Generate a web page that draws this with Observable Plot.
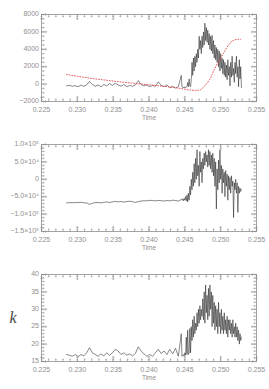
<!DOCTYPE html>
<html><head><meta charset="utf-8">
<script src="https://cdn.jsdelivr.net/npm/d3@7"></script>
<script src="https://cdn.jsdelivr.net/npm/@observablehq/plot@0.6"></script>
<style>body{margin:0;background:#fff} svg{display:block}</style>
</head><body><div id="c"></div>
<script>
const timeEarly = [0.2285,0.2289,0.2293,0.2297,0.2301,0.2305,0.2309,0.2313,0.2317,0.2321,0.2325,0.2329,0.2333,0.2337,0.2341,0.2345,0.2349,0.2353,0.2357,0.2361,0.2365,0.2369,0.2373,0.2377,0.2381,0.2385,0.2389,0.2393,0.2397,0.2401,0.2405,0.2409,0.2413,0.2417,0.2421,0.2425,0.2429,0.2433,0.2437,0.2441,0.2445];
const timeLate = [0.2446,0.2447,0.2448,0.2449,0.2450,0.2451,0.2452,0.2453,0.2454,0.2455,0.2456,0.2457,0.2458,0.2459,0.2460,0.2461,0.2462,0.2463,0.2464,0.2465,0.2466,0.2467,0.2468,0.2469,0.2470,0.2471,0.2472,0.2473,0.2474,0.2475,0.2476,0.2477,0.2478,0.2479,0.2480,0.2481,0.2482,0.2483,0.2484,0.2485,0.2486,0.2487,0.2488,0.2489,0.2490,0.2491,0.2492,0.2493,0.2494,0.2495,0.2496,0.2497,0.2498,0.2499,0.2500,0.2501,0.2502,0.2503,0.2504,0.2505,0.2506,0.2507,0.2508,0.2509,0.2510,0.2511,0.2512,0.2513,0.2514,0.2515,0.2516,0.2517,0.2518,0.2519,0.2520,0.2521,0.2522,0.2523,0.2524,0.2525,0.2526,0.2527,0.2528,0.2529];

const flux1Early = [-200,-150,-250,-180,-300,-120,-250,-100,300,-50,-250,-100,-300,-50,-200,50,-150,100,-100,-250,-50,-300,-150,-250,-100,400,-50,-200,-100,-300,-150,-250,250,-150,-300,-100,-400,-250,-450,-300,1000];
const flux1Late = [-300,-400,-350,-450,-300,-400,-350,-300,200,-300,600,-200,-300,500,2500,1000,3000,1500,3200,2000,3500,2500,4000,3000,5500,4000,5000,3500,5500,4200,6000,4500,7000,5000,6500,4800,6200,4500,5800,4000,5500,3800,5600,3500,5000,3000,4500,2800,4200,2500,4000,2000,3800,1500,3500,1800,3000,1200,2800,1000,2500,800,2200,500,2800,1000,2000,-200,2500,800,3200,1000,1800,200,2500,1200,3200,800,2000,-300,2800,600,2000,-400];

const redTime = [0.2285,0.2300,0.2320,0.2340,0.2360,0.2380,0.2400,0.2420,0.2440,0.2455,0.2465,0.2472,0.2477,0.2482,0.2486,0.2490,0.2495,0.2500,0.2505,0.2510,0.2515,0.2520,0.2525,0.2528];
const redValue = [1100,900,650,450,250,80,-80,-250,-450,-650,-750,-650,-300,200,700,1500,2300,3000,3700,4400,4900,5100,5150,5150];

const flux2Early = [-68000,-67000,-67500,-66500,-67000,-66000,-67500,-68000,-72000,-69000,-67000,-66500,-68000,-66000,-65000,-66500,-65000,-63500,-65000,-64000,-65500,-64000,-63000,-64500,-66500,-64000,-62500,-61500,-62000,-60500,-61000,-62000,-60500,-61500,-62500,-61000,-62000,-60000,-61000,-62500,-58000];
const flux2Late = [-60000,-56000,-62000,-55000,-60000,-50000,-62000,-45000,-65000,-40000,-60000,-20000,-45000,0,-30000,20000,-20000,45000,-10000,60000,0,85000,10000,40000,-20000,80000,20000,50000,-10000,60000,30000,75000,40000,80000,50000,70000,35000,85000,
40000,80000,30000,70000,20000,75000,10000,60000,-20000,50000,-85000,30000,-30000,55000,-10000,85000,0,40000,-40000,30000,-10000,20000,-50000,25000,-20000,15000,-60000,10000,-30000,5000,-40000,10000,-20000,-5000,-110000,-10000,-30000,0,-40000,-10000,-95000,-20000,-40000,-25000,-35000,-30000];

const kEarly = [17,16.8,16.5,17,16.4,17,16.6,17.5,19,17.5,17,16.5,17.2,16.6,17.5,16.8,17.5,18.5,18,17,17.5,16.8,17.2,16.6,17.3,19.2,18,17.2,16.5,17,16.5,17.5,18.5,17.3,18,17,18.5,17.2,18.8,16.5,23];
const kLate = [16.5,16.8,17,16.5,17.5,16.8,22,17,24,17,17.5,24.5,17.5,25,21,27,22,28,23,26,24,29,25,30,26,31,27,30,28,33,27,35,26,37,29,34,27,36,28,37,30,35,25,34,26,32,24,31,25,30,23,32,25,29,23,30,24,28,23,29,24,27,23,28,22,27,24,27,23,26,22,27,23,25,22,26,22,25,21,24,20,23,21,22];

const xTicks = [0.225,0.230,0.235,0.240,0.245,0.250,0.255];
const xTickLabels = ["0.225","0.230","0.235","0.240","0.245","0.250","0.255"];
const y1Ticks = [-2000,0,2000,4000,6000,8000];
const y1TickLabels = ["\u22122000","0","2000","4000","6000","8000"];
const y2Ticks = [-150000,-100000,-50000,0,50000,100000];
const y2TickLabels = ["\u22121.5\u00d710\u2075","\u22121.0\u00d710\u2075","\u22125.0\u00d710\u2074","0","5.0\u00d710\u2074","1.0\u00d710\u2075"];
const y3Ticks = [15,20,25,30,35,40];
const y3TickLabels = ["15","20","25","30","35","40"];

const time = timeEarly.concat(timeLate);
const GRAY = "#8f8f8f";
const FONT = "Liberation Sans, Arial, sans-serif";

function panel({series, red, yDomain, yTicks, yTickLabels, yMinorStep, height, ylabel}) {
  const xMinor = d3.range(0.225, 0.25501, 0.001);
  const yMinor = d3.range(yDomain[0], yDomain[1] + yMinorStep / 2, yMinorStep);
  const data = time.map((t, i) => ({t, v: series[i]}));
  const marks = [
    Plot.frame({stroke: GRAY, strokeWidth: 0.8}),
    Plot.line(data, {x: "t", y: "v", stroke: "#111", strokeWidth: 0.5}),
  ];
  if (red) marks.push(Plot.line(red, {x: "t", y: "v", stroke: "#e04848", strokeWidth: 0.9, strokeDasharray: "0.9,1.8"}));
  const tk = (vals, opts, len) => Plot.vector(vals, {...opts, length: len, anchor: "start", stroke: GRAY, strokeWidth: 0.6});
  for (const [vals, len] of [[xTicks, 5], [xMinor, 2.5]]) {
    marks.push(tk(vals, {x: d => d, frameAnchor: "bottom", rotate: 0}, len));
    marks.push(tk(vals, {x: d => d, frameAnchor: "top", rotate: 180}, len));
  }
  for (const [vals, len] of [[yTicks, 5], [yMinor, 2.5]]) {
    marks.push(tk(vals, {y: d => d, frameAnchor: "left", rotate: 90}, len));
    marks.push(tk(vals, {y: d => d, frameAnchor: "right", rotate: -90}, len));
  }
  marks.push(Plot.text(xTicks, {x: d => d, frameAnchor: "bottom", dy: 10, text: (d, i) => xTickLabels[i], fill: GRAY, fontSize: 7, fontFamily: FONT}));
  marks.push(Plot.text(yTicks, {y: d => d, frameAnchor: "left", dx: -2.5, dy: -0.5, textAnchor: "end", text: (d, i) => yTickLabels[i], fill: GRAY, fontSize: 7, fontFamily: FONT}));
  marks.push(Plot.text(["Time"], {frameAnchor: "bottom", dy: 18, text: d => d, fill: GRAY, fontSize: 6.5, fontFamily: FONT}));
  if (ylabel) marks.push(Plot.text([ylabel], {frameAnchor: "left", dx: -32, text: d => d, fill: "#444", fontSize: 16, fontStyle: "italic", fontFamily: "Liberation Serif, DejaVu Serif, serif"}));
  return Plot.plot({
    width: 269, height,
    marginLeft: 41, marginRight: 13, marginTop: 14, marginBottom: height - 101,
    x: {domain: [0.225, 0.255], axis: null},
    y: {domain: yDomain, axis: null},
    style: {background: "#fff", overflow: "visible"},
    marks
  });
}

const c = document.getElementById("c");
c.appendChild(panel({
  series: flux1Early.concat(flux1Late),
  red: redTime.map((t, i) => ({t, v: redValue[i]})),
  yDomain: [-2000, 8000], yTicks: y1Ticks, yTickLabels: y1TickLabels, yMinorStep: 500, height: 130
}));
c.appendChild(panel({
  series: flux2Early.concat(flux2Late),
  yDomain: [-150000, 100000], yTicks: y2Ticks, yTickLabels: y2TickLabels, yMinorStep: 10000, height: 130
}));
c.appendChild(panel({
  series: kEarly.concat(kLate),
  yDomain: [15, 40], yTicks: y3Ticks, yTickLabels: y3TickLabels, yMinorStep: 1, height: 129, ylabel: "k"
}));
</script>
</body></html>
